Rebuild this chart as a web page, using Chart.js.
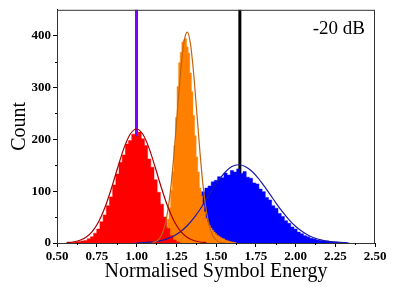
<!DOCTYPE html>
<html>
<head>
<meta charset="utf-8">
<script src="https://cdn.jsdelivr.net/npm/chart.js@4.4.1/dist/chart.umd.min.js"></script>
<style>
  html, body { margin: 0; padding: 0; background: #fff; }
  canvas { display: block; }
</style>
</head>
<body>
<canvas id="chart" width="395" height="290"></canvas>
<script>
// histogram bins: centre of first bin, bin width, counts
const redStart = 0.56, redWidth = 0.02;
const redCounts = [0, 1, 1, 2, 3, 4, 5, 8, 12, 19, 27, 41, 54, 72, 89, 112, 133, 156, 170, 191,
  198, 210, 206, 214, 201, 188, 162, 146, 122, 98, 75, 50, 28, 14, 6, 2, 0];

const orangeStart = 1.15, orangeWidth = 0.01;
const orangeCounts = [1, 3, 8, 17, 31, 46, 68, 102, 138, 188, 242, 302, 348, 368, 388, 392, 394, 378,
  366, 328, 292, 246, 207, 166, 137, 106, 91, 74, 60, 48, 40, 34, 29, 25, 21, 18, 15, 13, 11, 9, 8,
  6, 5, 4, 3, 2, 2, 1, 0];

const blueStart = 1.04, blueWidth = 0.02;
const blueCounts = [1, 1, 2, 3, 4, 6, 8, 11, 15, 19, 24, 30, 37, 45, 53, 62, 72, 82, 92, 99, 106,
  110, 118, 121, 128, 126, 135, 131, 140, 137, 143, 134, 138, 127, 125, 116, 114, 104, 99, 88, 83,
  72, 67, 57, 51, 43, 38, 31, 27, 21, 18, 14, 12, 9, 8, 6, 5, 4, 4, 3, 2, 2, 1, 1, 1, 0];

// fitted curves
const redFitX = [0.56, 0.60, 0.64, 0.68, 0.72, 0.76, 0.80, 0.84, 0.88, 0.92, 0.96, 1.00, 1.04, 1.08,
  1.12, 1.16, 1.20, 1.24, 1.28, 1.32, 1.36, 1.40, 1.44];
const redFitY = [0.7, 1.9, 4.8, 10.6, 21.6, 40.0, 67.4, 103.2, 143.7, 182.1, 209.8, 220, 209.8, 182.1,
  143.7, 103.2, 67.4, 40.0, 21.6, 10.6, 4.8, 1.9, 0.7];

const orangeFitX = [1.10, 1.12, 1.14, 1.16, 1.18, 1.20, 1.22, 1.24, 1.26, 1.28, 1.30, 1.32, 1.34, 1.36,
  1.38, 1.40, 1.42, 1.44, 1.46, 1.48, 1.50, 1.52, 1.54, 1.56];
const orangeFitY = [0.9, 2.7, 7.0, 16.7, 35.5, 68.5, 119, 187, 265, 338, 390, 407, 383, 325,
  249, 172, 107, 60.5, 30.8, 14.2, 5.9, 2.2, 0.7, 0.2];

const blueFitX = [1.00, 1.04, 1.08, 1.12, 1.16, 1.20, 1.24, 1.28, 1.32, 1.36, 1.40, 1.44, 1.48, 1.52,
  1.56, 1.60, 1.64, 1.68, 1.72, 1.76, 1.80, 1.84, 1.88, 1.92, 1.96, 2.00, 2.04, 2.08, 2.12, 2.16,
  2.20, 2.24, 2.28, 2.32];
const blueFitY = [0.4, 0.8, 1.5, 2.9, 5.2, 8.9, 14.6, 22.7, 33.8, 48.0, 65.1, 84.2, 103.9, 122.3,
  137.5, 147.5, 151, 148.2, 140.0, 127.3, 111.3, 93.8, 76.1, 59.4, 44.7, 32.3, 22.5, 15.1, 9.7, 6.0,
  3.6, 2.1, 1.2, 0.6];

// vertical marker lines (drawn under the histograms)
const markerX = [1.0, 1.65];
const markerColors = ['#8000ff', '#000000'];

const xTicks = [0.5, 0.75, 1.0, 1.25, 1.5, 1.75, 2.0, 2.25, 2.5];
const yTicks = [0, 100, 200, 300, 400];
const xMinorTicks = [0.625, 0.875, 1.125, 1.375, 1.625, 1.875, 2.125, 2.375];
const yMinorTicks = [50, 150, 250, 350];
const snrLabel = '-20 dB';

const serif = '"Liberation Serif", "Times New Roman", serif';

const bins = (start, width, counts) =>
  counts.map((c, i) => ({ x: +(start + i * width).toFixed(3), y: c }));
const pairs = (xs, ys) => xs.map((x, i) => ({ x: x, y: ys[i] }));

function histDataset(data, color, order) {
  return {
    data: data,
    stepped: 'middle',
    fill: 'origin',
    backgroundColor: color,
    borderColor: color,
    borderWidth: 0.5,
    pointRadius: 0,
    order: order
  };
}

function fitDataset(data, color) {
  return {
    data: data,
    borderColor: color,
    borderWidth: 1.2,
    fill: false,
    pointRadius: 0,
    cubicInterpolationMode: 'monotone',
    order: 0
  };
}

const markers = {
  id: 'markers',
  beforeDatasetsDraw(chart) {
    const ctx = chart.ctx;
    const area = chart.chartArea;
    const xs = chart.scales.x;
    ctx.save();
    ctx.lineWidth = 3;
    markerX.forEach((v, i) => {
      const px = xs.getPixelForValue(v);
      ctx.strokeStyle = markerColors[i];
      ctx.beginPath();
      ctx.moveTo(px, area.top);
      ctx.lineTo(px, area.bottom);
      ctx.stroke();
    });
    ctx.restore();
  }
};

const extras = {
  id: 'extras',
  afterDraw(chart) {
    const ctx = chart.ctx;
    const area = chart.chartArea;
    const xs = chart.scales.x, ys = chart.scales.y;
    ctx.save();
    // frame
    ctx.strokeStyle = '#333';
    ctx.lineWidth = 1;
    ctx.strokeRect(area.left + 0.5, area.top + 0.5, area.right - area.left - 1, area.bottom - area.top);
    // minor ticks
    ctx.strokeStyle = '#000';
    ctx.beginPath();
    xMinorTicks.forEach(v => {
      const px = Math.round(xs.getPixelForValue(v)) + 0.5;
      ctx.moveTo(px, area.bottom);
      ctx.lineTo(px, area.bottom + 2);
    });
    yMinorTicks.forEach(v => {
      const py = Math.round(ys.getPixelForValue(v)) + 0.5;
      ctx.moveTo(area.left, py);
      ctx.lineTo(area.left - 2, py);
    });
    ctx.stroke();
    // SNR label
    ctx.fillStyle = '#000';
    ctx.font = '19px ' + serif;
    ctx.textAlign = 'right';
    ctx.textBaseline = 'alphabetic';
    ctx.fillText(snrLabel, area.right - 10, area.top + 24);
    ctx.restore();
  }
};

const ctx = document.getElementById('chart').getContext('2d');
new Chart(ctx, {
  type: 'line',
  data: {
    datasets: [
      fitDataset(pairs(redFitX, redFitY), '#a80000'),
      fitDataset(pairs(orangeFitX, orangeFitY), '#c0650a'),
      fitDataset(pairs(blueFitX, blueFitY), '#1a1aa8'),
      histDataset(bins(redStart, redWidth, redCounts), '#ff0000', 1),
      histDataset(bins(orangeStart, orangeWidth, orangeCounts), '#ff8000', 2),
      histDataset(bins(blueStart, blueWidth, blueCounts), '#0000ff', 3)
    ]
  },
  options: {
    responsive: false,
    animation: false,
    devicePixelRatio: 1,
    layout: { padding: { top: 7, right: 20, left: 0, bottom: 0 } },
    plugins: {
      legend: { display: false },
      tooltip: { enabled: false }
    },
    scales: {
      x: {
        type: 'linear',
        min: 0.5,
        max: 2.5,
        afterBuildTicks: s => { s.ticks = xTicks.map(v => ({ value: v })); },
        afterFit: s => { s.height = 47; },
        grid: { drawOnChartArea: false, drawTicks: true, tickLength: 4, color: '#000' },
        border: { color: '#000', width: 1 },
        ticks: {
          maxRotation: 0,
          autoSkip: false,
          padding: 2,
          color: '#000',
          font: { family: serif, size: 13, weight: 'bold' },
          callback: v => v.toFixed(2)
        },
        title: {
          display: true,
          text: 'Normalised Symbol Energy',
          color: '#000',
          font: { family: serif, size: 20 },
          padding: { top: 0, bottom: 6 }
        }
      },
      y: {
        type: 'linear',
        min: 0,
        max: 450,
        afterBuildTicks: s => { s.ticks = yTicks.map(v => ({ value: v })); },
        afterFit: s => { s.width = 57; },
        grid: { drawOnChartArea: false, drawTicks: true, tickLength: 4, color: '#000' },
        border: { color: '#000', width: 1 },
        ticks: {
          padding: 2,
          color: '#000',
          font: { family: serif, size: 13, weight: 'bold' }
        },
        title: {
          display: true,
          text: 'Count',
          color: '#000',
          font: { family: serif, size: 20 },
          padding: { top: 8, bottom: 0 }
        }
      }
    }
  },
  plugins: [markers, extras]
});
</script>
</body>
</html>
